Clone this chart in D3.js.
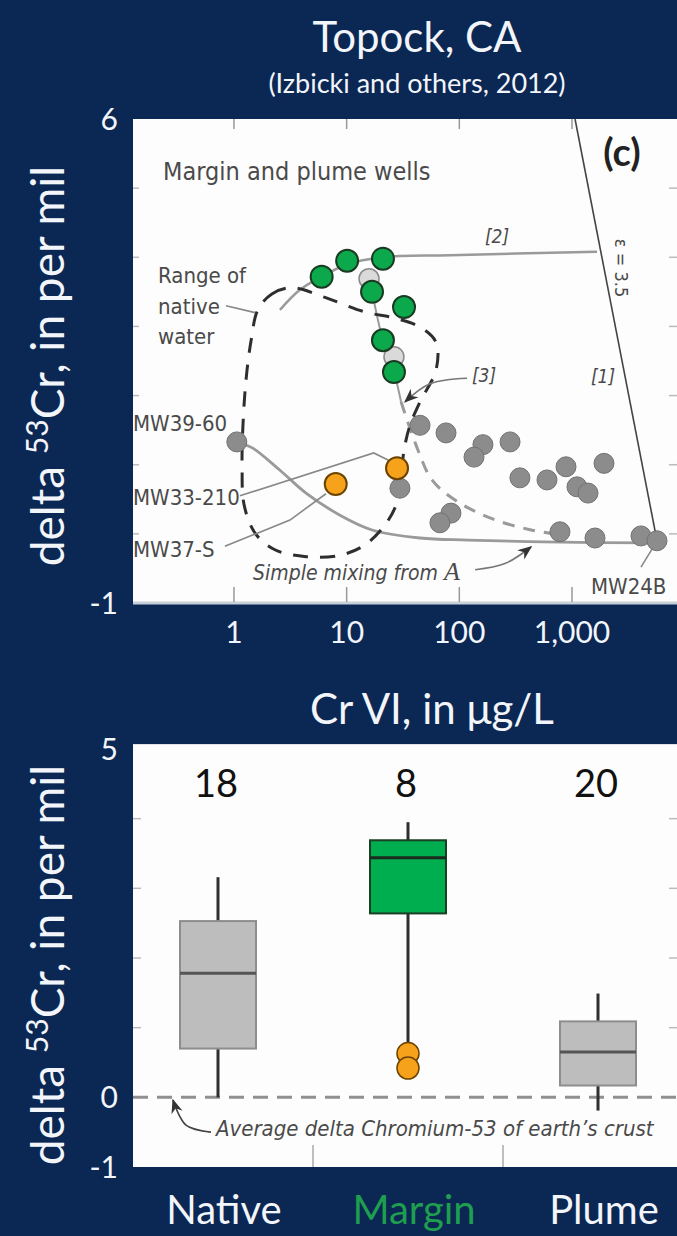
<!DOCTYPE html>
<html>
<head>
<meta charset="utf-8">
<script src="https://cdn.jsdelivr.net/npm/d3@7"></script>
<style>
  body { margin: 0; background: #0b2753; }
  text { font-family: Lato, "Open Sans", sans-serif; }
  .narrow { font-family: "Liberation Sans Narrow", "DejaVu Sans Condensed", sans-serif; fill: #4a4a4a; }
</style>
</head>
<body>
<script>
// ---- data ----
const xTickValues = [1, 10, 100, 1000];
const xTickLabels = ["1", "10", "100", "1,000"];
const yTopTicks = [0, 1, 2, 3, 4, 5];
const yTopLabels = [6, -1];

// [Cr VI ug/L, delta 53Cr]
const marginWells = [[6.0, 3.72], [10.1, 3.95], [21.0, 3.98], [16.8, 3.50], [32.3, 3.28], [21.0, 2.80], [26.3, 2.34]];
const hiddenWells = [[15.8, 3.69], [26.3, 2.56]];
const nativeWells = [[8.0, 0.72], [28.0, 0.95]];
const plumeWells = [[1.06, 1.33], [44.8, 1.57], [76.2, 1.46], [162, 1.29], [135, 1.11], [282, 1.33], [345, 0.81],
  [600, 0.78], [885, 0.97], [1923, 1.02], [1107, 0.68], [1387, 0.59], [84.3, 0.30], [67.3, 0.16], [29.7, 0.66],
  [782, 0.03], [1600, -0.06], [4095, -0.03], [5680, -0.10]];

const epsilonLine = [[1064, 6], [5680, -0.10]];
const rayleighCurve = [[2.56, 3.24], [3.85, 3.53], [6.04, 3.72], [10.1, 3.90], [21.0, 4.00], [82.6, 4.03], [1667, 4.08]];
const path3Solid = [[16.8, 3.50], [21.0, 2.80], [26.3, 2.34], [30.4, 1.91]];
const path3Dashed = [[30.4, 1.91], [43.0, 1.21], [57.2, 0.78], [91.5, 0.49], [187, 0.23], [424, 0.06], [867, -0.02]];
const mixingCurve = [[1.2, 1.30], [1.47, 1.24], [2.56, 0.92], [4.36, 0.59], [8.72, 0.27], [16.8, 0.056], [44.8, -0.06],
  [119, -0.09], [782, -0.12], [5130, -0.13]];
const nativeRange = [[1.63, 3.24], [2.17, 3.47], [3.27, 3.56], [6.42, 3.42], [14.5, 3.21], [26.8, 3.12], [44.8, 2.99],
  [62.1, 2.77], [62.1, 2.37], [44.8, 1.91], [36.5, 1.57], [32.3, 1.21], [28.5, 0.49], [21.9, 0.13], [14.5, -0.16],
  [8.72, -0.31], [4.36, -0.33], [2.31, -0.23], [1.54, 0.01], [1.23, 0.42], [1.18, 0.97], [1.20, 1.55], [1.28, 2.23],
  [1.42, 2.80]];

const leaderMW33 = [[1.13, 0.55], [17.4, 1.17], [25.3, 1.04]];
const leaderMW37 = [[0.83, -0.18], [3.14, 0.20], [6.55, 0.58]];
const leaderMW24B = [[5550, -0.13], [4095, -0.48]];
const leaderNative = [[0.85, 3.30], [1.54, 3.20]];
const arrow3 = [[117, 2.25], [55, 2.17], [33, 1.91]];
const arrowMix = [[138, -0.52], [254, -0.43], [433, -0.19]];

const categories = ["Native", "Margin", "Plume"];
const sampleCounts = [18, 8, 20];
const whiskerLow = [0.0, 0.65, -0.19];
const q1 = [0.70, 2.64, 0.17];
const medians = [1.78, 3.44, 0.65];
const q3 = [2.53, 3.69, 1.09];
const whiskerHigh = [3.16, 3.95, 1.49];
const marginOutliers = [0.63, 0.42];
const crustAverage = 0;
const yBotTicks = [1, 2, 3, 4];
const yBotLabels = [5, 0, -1];

const W = 677, H = 1236;
const white = "#f2f5fa";

var svg = d3.select("body").append("svg")
  .attr("width", W)
  .attr("height", H);

svg.append("rect").attr("width", W).attr("height", H).attr("fill", "#0b2753");

var defs = svg.append("defs");
defs.append("marker")
  .attr("id", "arrow")
  .attr("viewBox", "0 0 10 10")
  .attr("refX", 9).attr("refY", 5)
  .attr("markerWidth", 9).attr("markerHeight", 9)
  .attr("orient", "auto")
  .append("path")
  .attr("d", "M0,1 L10,5 L0,9 L3,5 Z")
  .attr("fill", "#333");

// ---- titles ----
svg.append("text").attr("x", 417).attr("y", 52).attr("text-anchor", "middle")
  .attr("font-size", 42).attr("fill", white).text("Topock, CA");
svg.append("text").attr("x", 417).attr("y", 93).attr("text-anchor", "middle")
  .attr("font-size", 27).attr("fill", white).text("(Izbicki and others, 2012)");

function yTitle(cy) {
  var t = svg.append("text")
    .attr("transform", `translate(64,${cy}) rotate(-90)`)
    .attr("text-anchor", "middle")
    .attr("font-size", 46)
    .attr("fill", white);
  t.append("tspan").text("delta ");
  t.append("tspan").attr("font-size", 30).attr("dy", -16).text("53");
  t.append("tspan").attr("dy", 16).text("Cr, in per mil");
}
yTitle(366);
yTitle(965);

// ================= top panel =================
var xTop = d3.scaleLog().domain([0.127, 8550]).range([133, 677]);
var yTop = d3.scaleLinear().domain([-1, 6]).range([603, 119]);

svg.append("rect")
  .attr("x", xTop.range()[0]).attr("y", yTop(6))
  .attr("width", xTop.range()[1] - xTop.range()[0])
  .attr("height", yTop(-1) - yTop(6))
  .attr("fill", "#fdfdfd");
svg.append("line")
  .attr("x1", xTop.range()[0]).attr("x2", xTop.range()[1])
  .attr("y1", yTop(-1)).attr("y2", yTop(-1))
  .attr("stroke", "#c9cfd8").attr("stroke-width", 3);

var gTop = svg.append("g");
// ticks
gTop.selectAll(".xt").data(xTickValues).enter().append("line")
  .attr("x1", d => xTop(d)).attr("x2", d => xTop(d))
  .attr("y1", yTop(6)).attr("y2", yTop(6) + 10)
  .attr("stroke", "#999").attr("stroke-width", 1.5);
gTop.selectAll(".xb").data(xTickValues).enter().append("line")
  .attr("x1", d => xTop(d)).attr("x2", d => xTop(d))
  .attr("y1", yTop(-1) - 1).attr("y2", yTop(-1) - 16)
  .attr("stroke", "#999").attr("stroke-width", 1.5);
gTop.selectAll(".yl").data(yTopTicks).enter().append("line")
  .attr("x1", xTop.range()[0]).attr("x2", xTop.range()[0] + 6)
  .attr("y1", d => yTop(d)).attr("y2", d => yTop(d))
  .attr("stroke", "#bbb").attr("stroke-width", 1.5);
gTop.selectAll(".yr").data(yTopTicks).enter().append("line")
  .attr("x1", xTop.range()[1] - 8).attr("x2", xTop.range()[1])
  .attr("y1", d => yTop(d)).attr("y2", d => yTop(d))
  .attr("stroke", "#bbb").attr("stroke-width", 1.5);

svg.selectAll(".xlab").data(xTickValues).enter().append("text")
  .attr("x", d => xTop(d)).attr("y", 643)
  .attr("text-anchor", "middle").attr("font-size", 30).attr("fill", white)
  .text((d, i) => xTickLabels[i]);
svg.selectAll(".ylabT").data(yTopLabels).enter().append("text")
  .attr("x", 118).attr("y", d => yTop(d) + 11)
  .attr("text-anchor", "end").attr("font-size", 30).attr("fill", white)
  .text(d => d);

var line = d3.line().x(d => xTop(d[0])).y(d => yTop(d[1]));
var smooth = d3.line().x(d => xTop(d[0])).y(d => yTop(d[1])).curve(d3.curveCatmullRom);

// curves
gTop.append("path").attr("d", line(epsilonLine)).attr("fill", "none").attr("stroke", "#444").attr("stroke-width", 1.6);
gTop.append("path").attr("d", smooth(rayleighCurve)).attr("fill", "none").attr("stroke", "#9a9a9a").attr("stroke-width", 2.5);
gTop.append("path").attr("d", smooth(mixingCurve)).attr("fill", "none").attr("stroke", "#9a9a9a").attr("stroke-width", 2.8);
gTop.append("path").attr("d", smooth(path3Solid)).attr("fill", "none").attr("stroke", "#9a9a9a").attr("stroke-width", 2);
gTop.append("path").attr("d", smooth(path3Dashed)).attr("fill", "none").attr("stroke", "#9a9a9a")
  .attr("stroke-width", 3).attr("stroke-dasharray", "12,9");
gTop.append("path")
  .attr("d", d3.line().x(d => xTop(d[0])).y(d => yTop(d[1])).curve(d3.curveCatmullRomClosed)(nativeRange))
  .attr("fill", "none").attr("stroke", "#2e2e2e").attr("stroke-width", 3)
  .attr("stroke-dasharray", "15,12");

// leader lines and arrows
[leaderMW33, leaderMW37, leaderMW24B, leaderNative].forEach(function (l) {
  gTop.append("path").attr("d", line(l)).attr("fill", "none").attr("stroke", "#888").attr("stroke-width", 1.6);
});
[arrow3, arrowMix].forEach(function (l) {
  gTop.append("path").attr("d", smooth(l)).attr("fill", "none").attr("stroke", "#777").attr("stroke-width", 1.6)
    .attr("marker-end", "url(#arrow)");
});

// points
gTop.selectAll(".plume").data(plumeWells).enter().append("circle")
  .attr("cx", d => xTop(d[0])).attr("cy", d => yTop(d[1])).attr("r", 10)
  .attr("fill", "#8c8c8c").attr("stroke", "#727272").attr("stroke-width", 1);
gTop.selectAll(".hidden").data(hiddenWells).enter().append("circle")
  .attr("cx", d => xTop(d[0])).attr("cy", d => yTop(d[1])).attr("r", 10)
  .attr("fill", "#dadada").attr("stroke", "#8a8a8a").attr("stroke-width", 1.5);
gTop.selectAll(".margin").data(marginWells).enter().append("circle")
  .attr("cx", d => xTop(d[0])).attr("cy", d => yTop(d[1])).attr("r", 11)
  .attr("fill", "#0ba84c").attr("stroke", "#1b3a22").attr("stroke-width", 2);
gTop.selectAll(".native").data(nativeWells).enter().append("circle")
  .attr("cx", d => xTop(d[0])).attr("cy", d => yTop(d[1])).attr("r", 11)
  .attr("fill", "#f7a21b").attr("stroke", "#6b4300").attr("stroke-width", 2);

// annotation text
function note(x, y, txt, size, opts) {
  opts = opts || {};
  var t = gTop.append("text").attr("class", "narrow").attr("x", x).attr("y", y)
    .attr("font-size", size).text(txt);
  if (opts.italic) t.attr("font-style", "italic");
  if (opts.anchor) t.attr("text-anchor", opts.anchor);
  return t;
}
note(163, 180, "Margin and plume wells", 25);
gTop.append("text").attr("x", 622).attr("y", 166).attr("text-anchor", "middle")
  .attr("font-family", "'Liberation Sans', Arial, sans-serif").attr("font-weight", "bold")
  .attr("font-size", 38).attr("fill", "#222").text("(c)");
note(158, 283, "Range of", 22);
note(158, 314, "native", 22);
note(158, 344, "water", 22);
note(497, 243, "[2]", 19, { italic: true, anchor: "middle" });
note(603, 383, "[1]", 19, { italic: true, anchor: "middle" });
note(484, 382, "[3]", 19, { italic: true, anchor: "middle" });
note(133, 431, "MW39-60", 22);
note(133, 505, "MW33-210", 22);
note(133, 557, "MW37-S", 22);
note(591, 594, "MW24B", 22);
gTop.append("text").attr("class", "narrow")
  .attr("transform", "translate(615,268) rotate(90)")
  .attr("text-anchor", "middle").attr("font-size", 18).attr("fill", "#333")
  .text("\u03b5 = 3.5");
var mix = note(253, 580, "Simple mixing from ", 21, { italic: true });
mix.append("tspan").attr("font-family", "'Liberation Serif', serif").attr("font-size", 26).text("A");

// ================= bottom panel =================
var xBot = d3.scaleBand().domain(categories).range([123, 693]);
var yBot = d3.scaleLinear().domain([-1, 5]).range([1167, 749]);
var boxW = xBot.bandwidth() * 0.4;

svg.append("rect")
  .attr("x", 133).attr("y", yBot(5.07))
  .attr("width", W - 133).attr("height", yBot(-1) - yBot(5.07))
  .attr("fill", "#fdfdfd");

var gBot = svg.append("g");
gBot.selectAll(".yl").data(yBotTicks).enter().append("line")
  .attr("x1", 133).attr("x2", 141)
  .attr("y1", d => yBot(d)).attr("y2", d => yBot(d))
  .attr("stroke", "#bbb").attr("stroke-width", 1.5);
gBot.selectAll(".yr").data(yBotTicks).enter().append("line")
  .attr("x1", W - 8).attr("x2", W)
  .attr("y1", d => yBot(d)).attr("y2", d => yBot(d))
  .attr("stroke", "#bbb").attr("stroke-width", 1.5);
gBot.selectAll(".xb").data(categories.slice(1)).enter().append("line")
  .attr("x1", d => xBot(d)).attr("x2", d => xBot(d))
  .attr("y1", yBot(-1)).attr("y2", yBot(-1) - 22)
  .attr("stroke", "#aaa").attr("stroke-width", 1.5);

svg.selectAll(".ylabB").data(yBotLabels).enter().append("text")
  .attr("x", 118).attr("y", d => yBot(d) + 11)
  .attr("text-anchor", "end").attr("font-size", 30).attr("fill", white)
  .text(d => d);

// crust reference line
gBot.append("line")
  .attr("x1", 133).attr("x2", W)
  .attr("y1", yBot(crustAverage)).attr("y2", yBot(crustAverage))
  .attr("stroke", "#8f8f8f").attr("stroke-width", 3).attr("stroke-dasharray", "15,9");

var boxStyle = {
  Native: { fill: "#bdbdbd", stroke: "#8d8d8d", med: "#555" },
  Margin: { fill: "#00ad4f", stroke: "#1a3f25", med: "#1a2a1d" },
  Plume: { fill: "#bdbdbd", stroke: "#8d8d8d", med: "#555" }
};

categories.forEach(function (c, i) {
  var cx = xBot(c) + xBot.bandwidth() / 2;
  gBot.append("line").attr("x1", cx).attr("x2", cx)
    .attr("y1", yBot(whiskerHigh[i])).attr("y2", yBot(whiskerLow[i]))
    .attr("stroke", "#2f2f2f").attr("stroke-width", 3);
  gBot.append("rect")
    .attr("x", cx - boxW / 2).attr("width", boxW)
    .attr("y", yBot(q3[i])).attr("height", yBot(q1[i]) - yBot(q3[i]))
    .attr("fill", boxStyle[c].fill).attr("stroke", boxStyle[c].stroke).attr("stroke-width", 2);
  gBot.append("line").attr("x1", cx - boxW / 2).attr("x2", cx + boxW / 2)
    .attr("y1", yBot(medians[i])).attr("y2", yBot(medians[i]))
    .attr("stroke", boxStyle[c].med).attr("stroke-width", 3);
  svg.append("text").attr("x", cx - 2).attr("y", 797)
    .attr("text-anchor", "middle").attr("font-size", 38).attr("fill", "#111")
    .text(sampleCounts[i]);
  svg.append("text").attr("x", cx + 6).attr("y", 1224)
    .attr("text-anchor", "middle").attr("font-size", 40)
    .attr("fill", c === "Margin" ? "#1f9e4f" : white)
    .text(c);
});

var mcx = xBot("Margin") + xBot.bandwidth() / 2;
gBot.selectAll(".out").data(marginOutliers).enter().append("circle")
  .attr("cx", mcx).attr("cy", d => yBot(d)).attr("r", 11)
  .attr("fill", "#f7a21b").attr("stroke", "#6b4300").attr("stroke-width", 1.5);

// crust annotation
gBot.append("path")
  .attr("d", d3.line().curve(d3.curveCatmullRom)([[211, yBot(-0.5)], [186, yBot(-0.4)], [173, yBot(-0.04)]]))
  .attr("fill", "none").attr("stroke", "#444").attr("stroke-width", 1.6)
  .attr("marker-end", "url(#arrow)");
gBot.append("text").attr("class", "narrow")
  .attr("x", 216).attr("y", yBot(-0.55))
  .attr("font-size", 22).attr("font-style", "italic")
  .text("Average delta Chromium-53 of earth\u2019s crust");

svg.append("text").attr("x", 432).attr("y", 724).attr("text-anchor", "middle")
  .attr("font-size", 42).attr("fill", white)
  .text("Cr VI, in \u03bcg/L");
</script>
</body>
</html>
